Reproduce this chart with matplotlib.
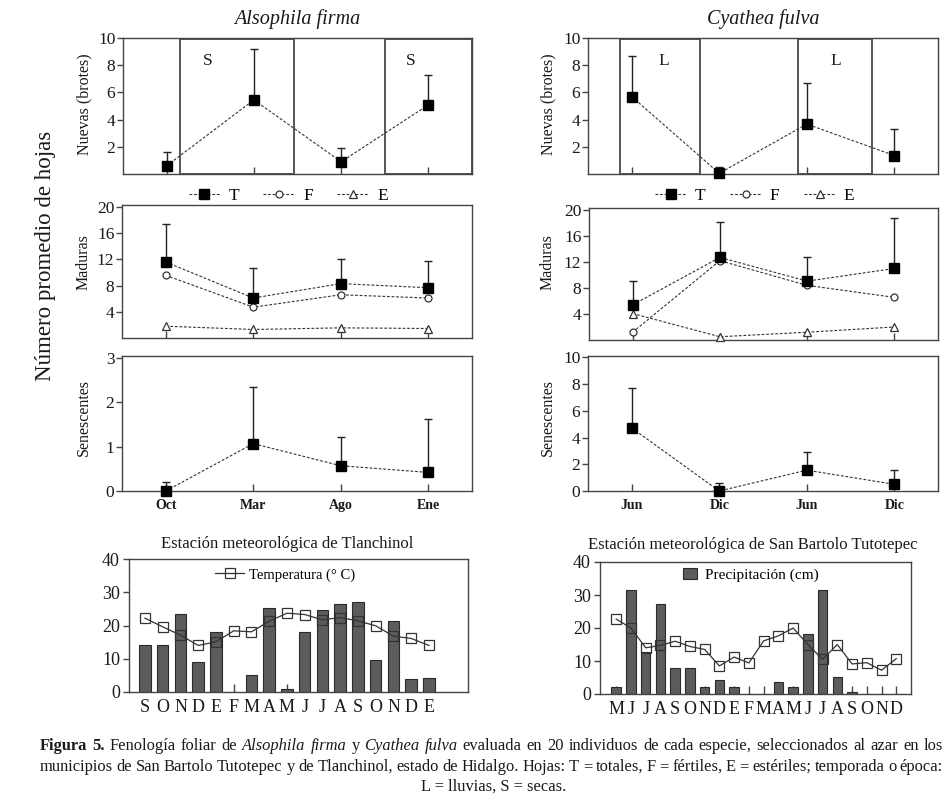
import matplotlib
matplotlib.use('Agg')
import matplotlib.pyplot as plt
from matplotlib.patches import Rectangle, Patch
import numpy as np

plt.rcParams['font.family'] = ['Liberation Serif', 'DejaVu Serif']

# ---------------- data ----------------
species_titles = ['Alsophila firma', 'Cyathea fulva']
af_xlabels = ['Oct', 'Mar', 'Ago', 'Ene']
cf_xlabels = ['Jun', 'Dic', 'Jun', 'Dic']

# Nuevas (brotes): mean and upper SD
af_nuevas = [0.6, 5.45, 0.9, 5.08]
af_nuevas_sd = [1.03, 3.75, 0.98, 2.22]
cf_nuevas = [5.69, 0.05, 3.67, 1.36]
cf_nuevas_sd = [2.95, 0.45, 3.0, 1.92]

# Maduras
af_mad_T = [11.6, 6.1, 8.3, 7.67]
af_mad_T_sd = [5.8, 4.65, 3.8, 4.13]
af_mad_F = [9.57, 4.7, 6.6, 6.1]
af_mad_E = [1.8, 1.3, 1.55, 1.45]
cf_mad_T = [5.4, 12.7, 9.05, 11.0]
cf_mad_T_sd = [3.65, 5.5, 3.75, 7.7]
cf_mad_F = [1.2, 12.2, 8.4, 6.56]
cf_mad_E = [4.07, 0.5, 1.2, 2.0]

# Senescentes
af_sen = [0.0, 1.07, 0.57, 0.42]
af_sen_sd = [0.2, 1.28, 0.66, 1.21]
cf_sen = [4.71, 0.0, 1.56, 0.5]
cf_sen_sd = [2.97, 0.63, 1.34, 1.06]

# Season boxes (start, end in sample index units, label)
af_seasons = [(0.15, 1.46, 'S'), (2.5, 3.5, 'S')]
cf_seasons = [(-0.13, 0.78, 'L'), (1.9, 2.75, 'L')]
af_season_label_x = [0.47, 2.8]
cf_season_label_x = [0.37, 2.33]

# Climate
tl_title = 'Estación meteorológica de Tlanchinol'
tl_months = ['S', 'O', 'N', 'D', 'E', 'F', 'M', 'A', 'M', 'J', 'J', 'A', 'S', 'O', 'N', 'D', 'E']
tl_precip = [14.0, 14.0, 23.6, 8.9, 18.1, 0.0, 5.1, 25.3, 0.8, 18.1, 24.7, 26.5, 27.0, 9.6, 21.4, 3.9, 4.2]
tl_temp = [22.2, 19.6, 17.1, 14.0, 15.1, 18.4, 18.1, 21.3, 23.7, 23.3, 21.7, 22.4, 21.4, 19.9, 16.8, 16.1, 14.0]

sb_title = 'Estación meteorológica de San Bartolo Tutotepec'
sb_months = ['M', 'J', 'J', 'A', 'S', 'O', 'N', 'D', 'E', 'F', 'M', 'A', 'M', 'J', 'J', 'A', 'S', 'O', 'N', 'D']
sb_precip = [2.0, 31.5, 12.6, 27.2, 8.0, 8.0, 2.0, 4.2, 2.0, 0.0, 0.0, 3.5, 2.0, 18.2, 31.5, 5.1, 0.5, 0.0, 0.0, 0.0]
sb_temp = [22.7, 20.0, 14.0, 14.7, 16.0, 14.4, 13.5, 8.5, 11.2, 9.4, 16.1, 17.6, 20.0, 15.0, 10.5, 15.0, 9.1, 9.5, 7.2, 10.7]

caption_lines = [
    [('Figura', 'b'), ('5.', 'b'), ('Fenología', 'n'), ('foliar', 'n'), ('de', 'n'),
     ('Alsophila', 'i'), ('firma', 'i'), ('y', 'n'), ('Cyathea', 'i'), ('fulva', 'i'),
     ('evaluada', 'n'), ('en', 'n'), ('20', 'n'), ('individuos', 'n'), ('de', 'n'),
     ('cada', 'n'), ('especie,', 'n'), ('seleccionados', 'n'), ('al', 'n'), ('azar', 'n'),
     ('en', 'n'), ('los', 'n')],
    [(w, 'n') for w in 'municipios de San Bartolo Tutotepec y de Tlanchinol, estado de Hidalgo. Hojas: T = totales, F = fértiles, E = estériles; temporada o época:'.split(' ')],
]
caption_last = 'L = lluvias, S = secas.'

# ---------------- figure ----------------
W, H = 949, 809
fig = plt.figure(figsize=(W / 100, H / 100), dpi=100)
fig.patch.set_facecolor('white')

SP = '#444444'
TXT = '#1a1a1a'
DASH = (0, (2.5, 1.6))


def add_ax(l, r, t, b):
    return fig.add_axes([l / W, 1 - b / H, (r - l) / W, (b - t) / H])


def style(ax, xlen=5, ylsize=12.5):
    for s in ax.spines.values():
        s.set_color(SP)
        s.set_linewidth(1.0)
    ax.tick_params(axis='x', direction='in', length=xlen, width=1, color=SP,
                   labelsize=10, pad=6, labelcolor=TXT)
    ax.tick_params(axis='y', direction='out', length=4, width=1, color=SP,
                   labelsize=ylsize, pad=1.5, labelcolor=TXT)


def phen_axes(ax, ylim, yticks, labels=None):
    style(ax)
    ax.set_xlim(-0.5, 3.5)
    ax.set_ylim(*ylim)
    ax.set_yticks(yticks)
    ax.set_xticks(range(4))
    if labels is None:
        ax.set_xticklabels([])
    else:
        ax.set_xticklabels(labels, fontweight='bold', fontsize=10)


def errbars(ax, x, m, sd):
    ax.errorbar(x, m, yerr=[np.zeros(len(m)), sd], fmt='none', ecolor='#222222',
                elinewidth=1.0, capsize=3, capthick=1.0, zorder=3, clip_on=False)


def tseries(ax, x, y, label='T'):
    return ax.plot(x, y, ls=DASH, color='#333333', lw=0.8, marker='s', ms=6.5,
                   mfc='black', mec='black', label=label, zorder=5, clip_on=False)[0]


x4 = np.arange(4)

# ---- Nuevas ----
for (l, r), m, sd, seasons, labx in [((123, 472), af_nuevas, af_nuevas_sd, af_seasons, af_season_label_x),
                                     ((588, 938), cf_nuevas, cf_nuevas_sd, cf_seasons, cf_season_label_x)]:
    ax = add_ax(l, r, 38, 174)
    phen_axes(ax, (0, 10), [2, 4, 6, 8, 10])
    for (a, b, lab), lx in zip(seasons, labx):
        ax.add_patch(Rectangle((a, 0), b - a, 9.93, fill=False, ec='#555555', lw=1.4, zorder=2))
        ax.text(lx, 8.3, lab, fontsize=12.5, ha='center', va='center', color=TXT)
    errbars(ax, x4, m, sd)
    tseries(ax, x4, m)

# ---- Maduras ----
for (l, r, t, b), T, Tsd, F, E, ly in [((122, 472, 205, 338), af_mad_T, af_mad_T_sd, af_mad_F, af_mad_E, 1.068),
                                       ((589, 938, 208, 340), cf_mad_T, cf_mad_T_sd, cf_mad_F, cf_mad_E, 1.09)]:
    ax = add_ax(l, r, t, b)
    phen_axes(ax, (0, 20.3), [4, 8, 12, 16, 20])
    errbars(ax, x4, T, Tsd)
    hT = tseries(ax, x4, T, 'T')
    hF = ax.plot(x4, F, ls=DASH, color='#333333', lw=0.8, marker='o', ms=5,
                 mfc='white', mec='#333333', mew=0.9, label='F', zorder=4, clip_on=False)[0]
    hE = ax.plot(x4, E, ls=DASH, color='#333333', lw=0.8, marker='^', ms=5.5,
                 mfc='white', mec='#333333', mew=0.9, label='E', zorder=4, clip_on=False)[0]
    ax.legend(handles=[hT, hF, hE], loc='center', bbox_to_anchor=(0.475, ly), ncol=3,
              frameon=False, fontsize=12.5, handlelength=1.8, handletextpad=0.5,
              columnspacing=1.4, borderaxespad=0, borderpad=0)

# ---- Senescentes ----
for (l, r), m, sd, ylim, yt, labs in [((122, 472), af_sen, af_sen_sd, (0, 3.05), [0, 1, 2, 3], af_xlabels),
                                      ((588, 938), cf_sen, cf_sen_sd, (0, 10.1), [0, 2, 4, 6, 8, 10], cf_xlabels)]:
    ax = add_ax(l, r, 356, 491)
    phen_axes(ax, ylim, yt, labs)
    errbars(ax, x4, m, sd)
    tseries(ax, x4, m)

# ---- titles and y labels ----
fig.text(297 / W, 1 - 19 / H, species_titles[0], fontsize=14.5, style='italic',
         ha='center', va='center', color=TXT)
fig.text(763 / W, 1 - 19 / H, species_titles[1], fontsize=14.5, style='italic',
         ha='center', va='center', color=TXT)
for xc in (84, 548):
    fig.text(xc / W, 1 - 104 / H, 'Nuevas (brotes)', rotation=90, fontsize=11.5,
             ha='center', va='center', color=TXT)
    fig.text(xc / W, 1 - 262 / H, 'Maduras', rotation=90, fontsize=11.5,
             ha='center', va='center', color=TXT)
    fig.text(xc / W, 1 - 418 / H, 'Senescentes', rotation=90, fontsize=11.5,
             ha='center', va='center', color=TXT)
fig.text(46 / W, 1 - 256 / H, 'Número promedio de hojas', rotation=90, fontsize=16.5,
         ha='center', va='center', color=TXT)

# ---- climate ----
BAR = '#5c5c5c'


def climate(ax, months, precip, temp, xlim):
    for s in ax.spines.values():
        s.set_color(SP)
        s.set_linewidth(1.0)
    x = np.arange(len(months))
    bars = ax.bar(x, precip, width=0.65, color=BAR, edgecolor='#2a2a2a', lw=0.8, zorder=2)
    line = ax.plot(x, temp, color='#333333', lw=0.9, marker='s', ms=6.5, mfc='none',
                   mec='#333333', mew=0.9, zorder=4)[0]
    ax.set_xlim(*xlim)
    ax.set_ylim(0, 40)
    ax.set_yticks([0, 10, 20, 30, 40])
    ax.set_xticks(x)
    ax.set_xticklabels(months)
    ax.tick_params(axis='x', direction='in', length=5.5, width=1, color=SP,
                   labelsize=13, pad=5, labelcolor=TXT)
    ax.tick_params(axis='y', direction='out', length=4, width=1, color=SP,
                   labelsize=13, pad=2.5, labelcolor=TXT)
    return bars, line


axL = add_ax(129, 468, 559, 692)
b1, l1 = climate(axL, tl_months, tl_precip, tl_temp, (-0.9, 18.2))
axL.legend(handles=[l1], labels=['Temperatura (° C)'], loc='center',
           bbox_to_anchor=(0.46, 0.88), frameon=False, fontsize=10.5,
           handlelength=2.0, handletextpad=0.3, borderpad=0, borderaxespad=0)

axR = add_ax(600, 911, 562, 694)
b2, l2 = climate(axR, sb_months, sb_precip, sb_temp, (-1.1, 20.0))
axR.legend(handles=[Patch(facecolor=BAR, edgecolor='#2a2a2a', lw=0.8)],
           labels=['Precipitación (cm)'], loc='center', bbox_to_anchor=(0.485, 0.9),
           frameon=False, fontsize=11, handlelength=0.9, handleheight=0.75,
           handletextpad=0.5, borderpad=0, borderaxespad=0)

fig.text(287 / W, 1 - 544 / H, tl_title, fontsize=12, ha='center', va='center', color=TXT)
fig.text(753 / W, 1 - 545 / H, sb_title, fontsize=12, ha='center', va='center', color=TXT)

# ---- caption ----
renderer = fig.canvas.get_renderer()
sty = {'n': {}, 'b': {'fontweight': 'bold'}, 'i': {'style': 'italic'}}


def measure(s, kw, size):
    t = fig.text(0, 0, s, fontsize=size, **kw)
    w = t.get_window_extent(renderer).width
    t.remove()
    return w


# choose font size so that line 1 with normal spaces fills ~98% of the width
x0c, x1c = 40, 943
ref_size = 10.0
sp_ref = measure('a a', {}, ref_size) - measure('aa', {}, ref_size)
nat = sum(measure(w, sty[s], ref_size) for w, s in caption_lines[0]) + sp_ref * (len(caption_lines[0]) - 1)
CAP = ref_size * (x1c - x0c) * 0.985 / nat


def draw_line(tokens, ybase):
    widths = [measure(w, sty[s], CAP) for w, s in tokens]
    n = len(tokens)
    gap = (x1c - x0c - sum(widths)) / (n - 1)
    x = x0c
    for (w, s), wd in zip(tokens, widths):
        fig.text(x / W, 1 - ybase / H, w, fontsize=CAP, ha='left', va='baseline',
                 color=TXT, **sty[s])
        x += wd + gap


draw_line(caption_lines[0], 750)
draw_line(caption_lines[1], 771)
fig.text(494 / W, 1 - 791 / H, caption_last, fontsize=CAP, ha='center', va='baseline', color=TXT)

fig.savefig('out.png', dpi=100, facecolor='white')
